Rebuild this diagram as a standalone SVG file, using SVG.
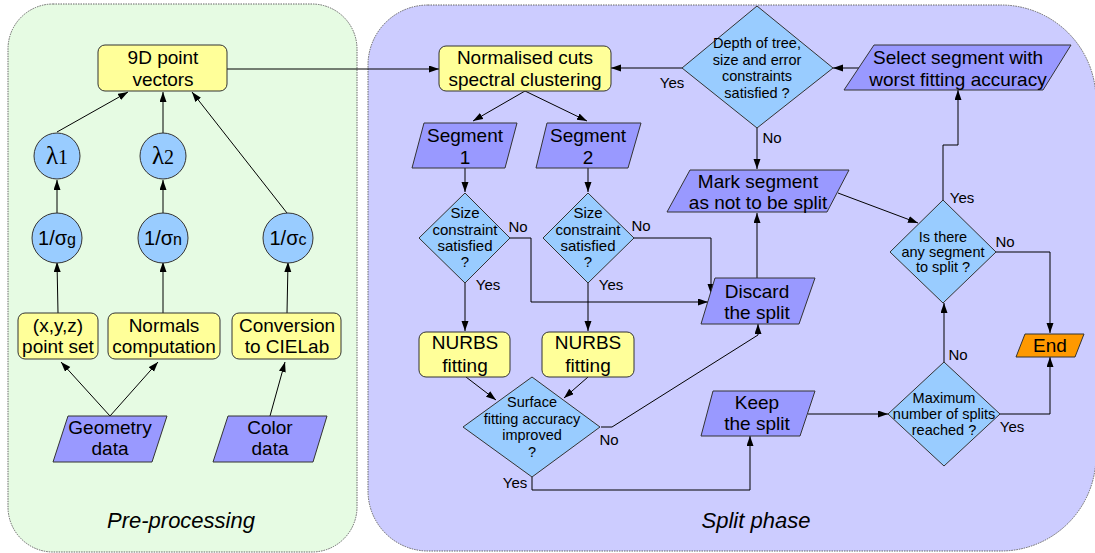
<svg xmlns="http://www.w3.org/2000/svg" width="1095" height="553" viewBox="0 0 1095 553">
<style>
text{font-family:"Liberation Sans",Arial,sans-serif;fill:#000;text-anchor:middle}
.panel{stroke:#666;stroke-width:1;stroke-dasharray:1.5 1}
.rect{fill:#ffff99;stroke:#333;stroke-width:1}
.par{fill:#9999ff;stroke:#333;stroke-width:1}
.dia{fill:#99ccff;stroke:#333;stroke-width:1}
.circ{fill:#99ccff;stroke:#333;stroke-width:1}
.end{fill:#ff9900;stroke:#333;stroke-width:1}
.big{font-size:19px}
.small{font-size:14.5px}
.mid{font-size:15px}
.lbl{font-size:15px}
.title{font-size:22px;font-style:italic}
.conn path{fill:none;stroke:#000;stroke-width:1}
</style>
<defs>
<marker id="ah" markerWidth="10" markerHeight="8" refX="10" refY="3.5" orient="auto" markerUnits="userSpaceOnUse">
<path d="M0,0 L10,3.5 L0,7 z" fill="#000"/>
</marker>
</defs>

<g id="panel-pre"><rect class="panel" x="8" y="4" width="349" height="548" rx="45" fill="#e6fbe3"/><text class="title" x="181" y="528">Pre-processing</text></g>
<g id="panel-split"><path class="panel" d="M428,5 L1001,5 A95,95 0 0 1 1096,100 L1096,456 A95,95 0 0 1 1001,551 L428,551 A60,60 0 0 1 368,491 L368,65 A60,60 0 0 1 428,5 Z" fill="#ccccff"/><text class="title" x="756" y="528">Split phase</text></g>

<g class="conn" id="connectors">
<path d="M57,132 L128,92" marker-end="url(#ah)"/>
<path d="M163,133 L163,92" marker-end="url(#ah)"/>
<path d="M287,213 L192,92" marker-end="url(#ah)"/>
<path d="M57,214 L57,180" marker-end="url(#ah)"/>
<path d="M163,214 L163,180" marker-end="url(#ah)"/>
<path d="M58,313 L57,262" marker-end="url(#ah)"/>
<path d="M163,313 L163,262" marker-end="url(#ah)"/>
<path d="M287,313 L288,262" marker-end="url(#ah)"/>
<path d="M110,416 L61,362" marker-end="url(#ah)"/>
<path d="M110,416 L158,362" marker-end="url(#ah)"/>
<path d="M270,416 L285,362" marker-end="url(#ah)"/>
<path d="M227,69 L439,69" marker-end="url(#ah)"/>
<path d="M682,68 L611,68" marker-end="url(#ah)"/>
<path d="M859,68 L833,68" marker-end="url(#ah)"/>
<path d="M525,91 L473,121" marker-end="url(#ah)"/>
<path d="M525,91 L587,121" marker-end="url(#ah)"/>
<path d="M465,168 L465,192" marker-end="url(#ah)"/>
<path d="M588,168 L588,192" marker-end="url(#ah)"/>
<path d="M510,238 L531,238 L531,302 L708,302" marker-end="url(#ah)"/>
<path d="M634,238 L711,238 L711,294" marker-end="url(#ah)"/>
<path d="M465,283 L465,331" marker-end="url(#ah)"/>
<path d="M588,283 L588,331" marker-end="url(#ah)"/>
<path d="M466,377 L496,400" marker-end="url(#ah)"/>
<path d="M588,377 L564,398" marker-end="url(#ah)"/>
<path d="M601,427 L612,427 L758,335 L758,324" marker-end="url(#ah)"/>
<path d="M532,477 L532,490 L750,490 L750,436" marker-end="url(#ah)"/>
<path d="M757,278 L757,213" marker-end="url(#ah)"/>
<path d="M757,128 L757,169" marker-end="url(#ah)"/>
<path d="M838,193 L918,223" marker-end="url(#ah)"/>
<path d="M943,200 L943,145 L958,145 L958,90" marker-end="url(#ah)"/>
<path d="M996,252 L1050,252 L1050,333" marker-end="url(#ah)"/>
<path d="M808,414 L888,414" marker-end="url(#ah)"/>
<path d="M944,362 L944,303" marker-end="url(#ah)"/>
<path d="M1000,414 L1050,414 L1050,357" marker-end="url(#ah)"/>
</g>

<g id="labels">
<text class="lbl" x="672" y="88">Yes</text>
<text class="lbl" x="772" y="143">No</text>
<text class="lbl" x="518" y="232">No</text>
<text class="lbl" x="641" y="231">No</text>
<text class="lbl" x="488" y="290">Yes</text>
<text class="lbl" x="611" y="290">Yes</text>
<text class="lbl" x="609" y="445">No</text>
<text class="lbl" x="515" y="488">Yes</text>
<text class="lbl" x="962" y="203">Yes</text>
<text class="lbl" x="1005" y="247">No</text>
<text class="lbl" x="958" y="360">No</text>
<text class="lbl" x="1012" y="432">Yes</text>
</g>

<g id="n9d"><rect class="rect" x="98" y="45" width="129" height="46" rx="7"/><text class="big" x="163" y="64">9D point</text><text class="big" x="163" y="86">vectors</text></g>
<g id="lambda1"><circle class="circ" cx="57" cy="156" r="23"/><text x="57" y="164" style="font-family:'Liberation Serif',serif;font-size:25px">λ<tspan style="font-size:20px">1</tspan></text></g>
<g id="lambda2"><circle class="circ" cx="163" cy="156" r="23"/><text x="163" y="164" style="font-family:'Liberation Serif',serif;font-size:25px">λ<tspan style="font-size:20px">2</tspan></text></g>
<g id="sg"><circle class="circ" cx="57" cy="238" r="25"/><text x="57" y="245" style="font-size:20px">1/σ<tspan style="font-size:16px">g</tspan></text></g>
<g id="sn"><circle class="circ" cx="163" cy="238" r="25"/><text x="163" y="245" style="font-size:20px">1/σ<tspan style="font-size:16px">n</tspan></text></g>
<g id="sc"><circle class="circ" cx="288" cy="238" r="25"/><text x="288" y="245" style="font-size:20px">1/σ<tspan style="font-size:16px">c</tspan></text></g>
<g id="xyz"><rect class="rect" x="18" y="313" width="80" height="46" rx="7"/><text class="big" x="58" y="332">(x,y,z)</text><text class="big" x="58" y="353">point set</text></g>
<g id="normals"><rect class="rect" x="108" y="313" width="112" height="46" rx="7"/><text class="big" x="164" y="332">Normals</text><text class="big" x="164" y="353">computation</text></g>
<g id="cielab"><rect class="rect" x="232" y="313" width="109" height="46" rx="7"/><text class="big" x="287" y="332">Conversion</text><text class="big" x="287" y="353">to CIELab</text></g>
<g id="geom"><polygon class="par" points="68,416 167,416 152,462 53,462"/><text class="big" x="110" y="434">Geometry</text><text class="big" x="110" y="455">data</text></g>
<g id="color"><polygon class="par" points="228,416 327,416 313,462 213,462"/><text class="big" x="270" y="434">Color</text><text class="big" x="270" y="455">data</text></g>

<g id="ncut"><rect class="rect" x="439" y="46" width="172" height="45" rx="7"/><text class="big" x="525" y="64">Normalised cuts</text><text class="big" x="525" y="86">spectral clustering</text></g>
<g id="depth"><polygon class="dia" points="757,6 833,68 757,128 682,68"/><text class="small" x="757" y="48">Depth of tree,</text><text class="small" x="757" y="65">size and error</text><text class="small" x="757" y="81">constraints</text><text class="small" x="757" y="98">satisfied ?</text></g>
<g id="select"><polygon class="par" points="874,45 1071,45 1043,90 844,90"/><text class="big" x="958" y="64">Select segment with</text><text class="big" x="958" y="86">worst fitting accuracy</text></g>
<g id="seg1"><polygon class="par" points="424,123 517,123 505,168 412,168"/><text class="big" x="465" y="142">Segment</text><text class="big" x="465" y="164">1</text></g>
<g id="seg2"><polygon class="par" points="547,123 641,123 628,168 536,168"/><text class="big" x="588" y="142">Segment</text><text class="big" x="588" y="164">2</text></g>
<g id="mark"><polygon class="par" points="690,170 849,170 827,212 667,212"/><text class="big" x="758" y="188">Mark segment</text><text class="big" x="758" y="209">as not to be split</text></g>
<g id="size1"><polygon class="dia" points="465,193 510,238 465,283 419,238"/><text class="mid" x="465" y="218">Size</text><text class="mid" x="465" y="235">constraint</text><text class="mid" x="465" y="251">satisfied</text><text class="mid" x="465" y="267">?</text></g>
<g id="size2"><polygon class="dia" points="588,193 634,238 588,283 543,238"/><text class="mid" x="588" y="218">Size</text><text class="mid" x="588" y="235">constraint</text><text class="mid" x="588" y="251">satisfied</text><text class="mid" x="588" y="267">?</text></g>
<g id="discard"><polygon class="par" points="715,278 815,278 799,324 701,324"/><text class="big" x="757" y="298">Discard</text><text class="big" x="757" y="319">the split</text></g>
<g id="nurbs1"><rect class="rect" x="419" y="332" width="91" height="45" rx="7"/><text class="big" x="465" y="349">NURBS</text><text class="big" x="465" y="372">fitting</text></g>
<g id="nurbs2"><rect class="rect" x="542" y="332" width="92" height="45" rx="7"/><text class="big" x="588" y="349">NURBS</text><text class="big" x="588" y="372">fitting</text></g>
<g id="surface"><polygon class="dia" points="532,377 600,427 532,477 463,427"/><text class="small" x="532" y="407">Surface</text><text class="small" x="532" y="424">fitting accuracy</text><text class="small" x="532" y="440">improved</text><text class="small" x="532" y="457">?</text></g>
<g id="anyseg"><polygon class="dia" points="943,200 996,252 943,303 890,252"/><text class="small" x="943" y="242">Is there</text><text class="small" x="943" y="257">any segment</text><text class="small" x="943" y="272">to split ?</text></g>
<g id="keep"><polygon class="par" points="713,391 815,391 800,436 701,436"/><text class="big" x="757" y="409">Keep</text><text class="big" x="757" y="430">the split</text></g>
<g id="maxsplit"><polygon class="dia" points="944,362 1000,414 944,466 888,414"/><text class="small" x="944" y="403">Maximum</text><text class="small" x="944" y="419">number of splits</text><text class="small" x="944" y="435">reached ?</text></g>
<g id="endnode"><polygon class="end" points="1025,334 1084,334 1075,357 1016,357"/><text class="big" x="1050" y="352">End</text></g>
</svg>
